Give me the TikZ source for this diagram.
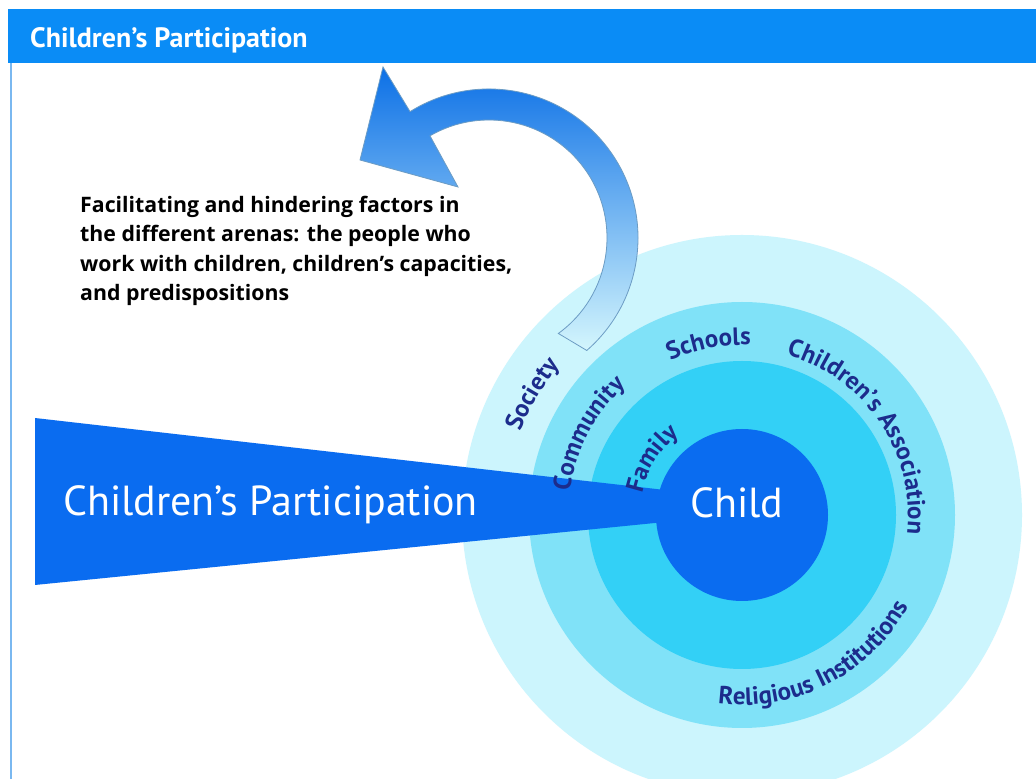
\documentclass[tikz,border=0pt]{standalone}
\usepackage{fontspec}
\setmainfont{PT Sans}
\newfontfamily\notefont{Open Sans}
\usetikzlibrary{calc,decorations.text}
\definecolor{barblue}{HTML}{0A8CF6}
\definecolor{deepblue}{HTML}{0A6CF0}
\definecolor{ringone}{HTML}{33D0F6}
\definecolor{ringtwo}{HTML}{80E2F8}
\definecolor{ringthree}{HTML}{CCF5FD}
\definecolor{labelblue}{HTML}{1C2C8C}
\definecolor{arrowtop}{HTML}{0C70E6}
\definecolor{arrowmid}{HTML}{2AA2EE}
\definecolor{arrowlow}{HTML}{D4F6FD}
\definecolor{edgeline}{HTML}{6C9CC4}
\definecolor{frameline}{HTML}{7AB8F0}
\newcommand{\ringfont}{\bfseries\fontsize{25}{25}\selectfont}
% text set along an arc round the centre: start angle, end angle, radius, text
\newcommand{\ringtext}[4]{%
  \path[ringlabel, decoration={text={|\ringfont|#4}}]
    ($(ctr)+(#1:#3)$) arc[start angle=#1, end angle=#2, radius=#3];}
\tikzset{%
  disc/.style      = {draw=none},%
  ringlabel/.style = {decorate, decoration={text along path,%
                      text align=center, text color=labelblue}},%
  bartitle/.style  = {text=white, font=\bfseries\fontsize{28}{28}\selectfont,%
                      inner sep=0pt},%
  bigtitle/.style  = {text=white, font=\fontsize{42}{42}\selectfont, inner sep=0pt}%
}

\begin{document}
\begin{tikzpicture}[x=1pt, y=1pt]
	\useasboundingbox (0,0) rectangle (1036,779);
	\fill[white] (0,0) rectangle (1036,779);
	% heading bar and frame
	\fill[barblue] (8,716) rectangle (1036,770);
	\draw[frameline, line width=2] (11,716) -- (11,0);
	\node[bartitle, anchor=base west] (title) at (30,731) {Children’s Participation};
	% arenas round the child
	\coordinate (ctr) at (742,264);
	\fill[ringthree, disc] (ctr) circle[radius=280];
	\fill[ringtwo, disc] (ctr) circle[radius=213];
	\fill[ringone, disc] (ctr) circle[radius=154];
	% the wedge
	\fill[deepblue] (35,361) -- (665,289) -- (665,257) -- (35,194) -- cycle;
	\node[bigtitle, anchor=base west] (wedge) at (63,263) {Children’s Participation};
	\fill[deepblue, disc] (ctr) circle[radius=86];
	\node[bigtitle, anchor=base] (child) at (737,261) {Child};
	% curved arrow
	\coordinate (ac) at (489,541);
	\path[draw=edgeline, line width=0.8, top color=arrowtop, middle color=arrowmid,
	      bottom color=arrowlow]
		(383,712) -- ($(ac)+(122:149)$) arc[start angle=122, end angle=-49, radius=149]
		-- ($(ac)+(-54:118)$) arc[start angle=-54, end angle=120, radius=118]
		-- (458,592) -- (360,619) -- cycle;
	\node[anchor=north west, align=left, inner sep=0pt,
	      font=\notefont\bfseries\fontsize{21.3}{29.5}\selectfont] (factors) at (80,583)
		{Facilitating and hindering factors in\\
		 the different arenas: the people who\\
		 work with children, children’s capacities,\\
		 and predispositions};
	% labels of the arenas
	\ringtext{180}{120}{236}{Society}
	\ringtext{184}{120}{174}{Community}
	\ringtext{130}{72}{170}{Schools}
	\ringtext{102}{-34}{166}{Children’s Association}
	\ringtext{180}{116}{102}{Family}
	\ringtext{-128}{2}{190}{Religious Institutions}
\end{tikzpicture}
\end{document}
